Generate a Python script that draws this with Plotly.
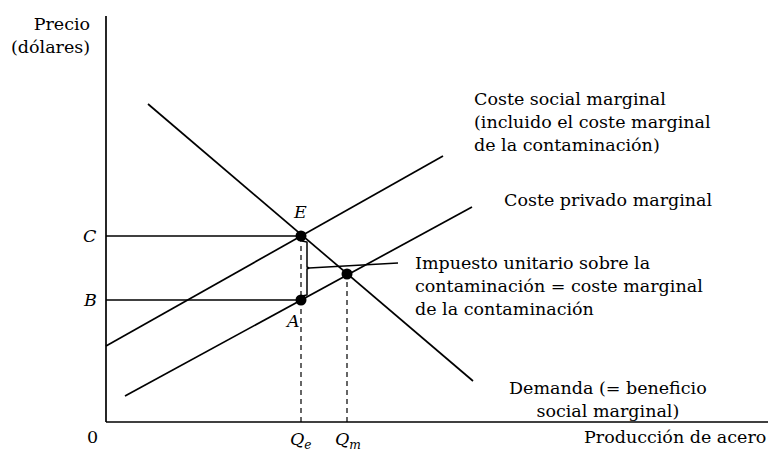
import plotly.graph_objects as go

# origin of the diagram sits at pixel (106, 422); units are roughly pixels
demand_x = [42, 367]
demand_y = [318, 41]
social_x = [0, 337]
social_y = [76, 266]
private_x = [19, 366]
private_y = [26, 215]

q_e = 195
q_m = 241
price_c = 186
price_b = 122
price_m = 148

axis_x_end = 662
axis_y_end = 406

FONT = "DejaVu Serif"
INK = "black"
LW = 1.7

fig = go.Figure()


def add_line(xs, ys, dash="solid", width=LW):
    fig.add_trace(
        go.Scatter(
            x=xs, y=ys, mode="lines",
            line=dict(color=INK, width=width, dash=dash),
            hoverinfo="skip", showlegend=False,
        )
    )


# axes
add_line([0, 0], [0, axis_y_end])
add_line([0, axis_x_end], [0, 0])

# curves
add_line(demand_x, demand_y)
add_line(social_x, social_y)
add_line(private_x, private_y)

# price levels C and B
add_line([0, q_e], [price_c, price_c])
add_line([0, q_e], [price_b, price_b])

# dashed drops to the quantity axis
add_line([q_e, q_e], [0, price_c], dash="5px,4px", width=1.2)
add_line([q_m, q_m], [0, price_m], dash="5px,4px", width=1.2)

# bracket between E and A, plus leader to the tax label
mid = (price_c + price_b) / 2
add_line(
    [q_e + 1, q_e + 6, q_e + 6, q_e + 8, q_e + 6, q_e + 6, q_e + 1],
    [price_c - 5, price_c - 6, mid + 1, mid, mid - 1, price_b + 5, price_b + 4],
    width=1.5,
)
add_line([q_e + 8, 292], [mid, 159], width=1.3)

# points E, A and market equilibrium
fig.add_trace(
    go.Scatter(
        x=[q_e, q_e, q_m], y=[price_c, price_b, price_m], mode="markers",
        marker=dict(color=INK, size=11),
        hoverinfo="skip", showlegend=False,
    )
)

labels = [
    ("Precio<br>(dólares)", -14, 387, "right", "middle", "right"),
    ("0", -14, -15, "center", "middle", "center"),
    ("<i>C</i>", -16, price_c, "center", "middle", "center"),
    ("<i>B</i>", -16, price_b, "center", "middle", "center"),
    ("<i>E</i>", q_e - 1, 210, "center", "middle", "center"),
    ("<i>A</i>", q_e - 9, 101, "center", "middle", "center"),
    ("<i>Q<sub>e</sub></i>", q_e, -18, "center", "middle", "center"),
    ("<i>Q<sub>m</sub></i>", q_m + 1, -18, "center", "middle", "center"),
    ("Coste social marginal<br>(incluido el coste marginal<br>de la contaminación)",
     366, 300, "left", "middle", "left"),
    ("Coste privado marginal", 396, 222, "left", "middle", "left"),
    ("Impuesto unitario sobre la<br>contaminación = coste marginal<br>de la contaminación",
     307, 136, "left", "middle", "left"),
    ("Demanda (= beneficio<br>social marginal)", 502, 23, "center", "middle", "center"),
    ("Producción de acero", 662, -15, "right", "middle", "right"),
]
for text, x, y, xa, ya, al in labels:
    fig.add_annotation(
        x=x, y=y, text=text, showarrow=False, xanchor=xa, yanchor=ya, align=al,
        font=dict(family=FONT, size=17.5, color=INK),
    )

fig.update_xaxes(range=[-106, 663], visible=False, showgrid=False, zeroline=False)
fig.update_yaxes(range=[-35, 422], visible=False, showgrid=False, zeroline=False)
fig.update_layout(
    width=769, height=457,
    margin=dict(l=0, r=0, t=0, b=0),
    plot_bgcolor="white", paper_bgcolor="white",
)

# drop the browser's default body margin so the figure fills the window
fig.write_html(
    "out.html",
    config={"displayModeBar": False},
    post_script="document.body.style.margin='0';document.body.style.overflow='hidden';",
)
